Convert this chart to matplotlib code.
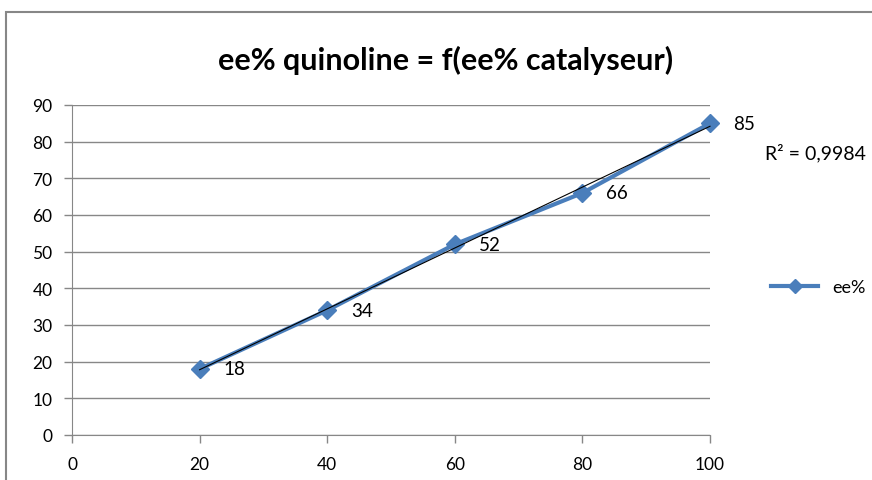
import matplotlib.pyplot as plt
import numpy as np
from matplotlib.patches import Rectangle

ee_catalyseur = [20, 40, 60, 80, 100]
ee_quinoline = [18, 34, 52, 66, 85]
x_ticks = [0, 20, 40, 60, 80, 100]
y_ticks = [0, 10, 20, 30, 40, 50, 60, 70, 80, 90]

blue = "#4A7EBB"
grey = "#878787"
font = ["Lato", "DejaVu Sans"]

fig = plt.figure(figsize=(8.72, 4.81), dpi=100)
W, H = 872, 481

# cadre du graphique
fig.patches.append(Rectangle((6 / W, -0.05), 1.0, 1 - 13 / H + 0.05,
                             transform=fig.transFigure, fill=False,
                             edgecolor=grey, linewidth=1.5))

ax = fig.add_axes([72 / W, 45 / H, (710 - 72) / W, (436 - 106) / H])
ax.set_xlim(0, 100)
ax.set_ylim(0, 90)
ax.set_xticks(x_ticks)
ax.set_yticks(y_ticks)
ax.grid(axis="y", color=grey, linewidth=1)
ax.set_axisbelow(True)
for side in ["top", "right"]:
    ax.spines[side].set_visible(False)
for side in ["left", "bottom"]:
    ax.spines[side].set_color(grey)
ax.tick_params(colors=grey, length=6, width=1, labelcolor="black", labelsize=12.5)
ax.tick_params(axis="x", pad=9)
ax.tick_params(axis="y", pad=8)
for lbl in ax.get_xticklabels() + ax.get_yticklabels():
    lbl.set_family(font)

ax.plot(ee_catalyseur, ee_quinoline, color=blue, linewidth=3, marker="D",
        markersize=9, label="ee%", zorder=3, clip_on=False)

# courbe de tendance linéaire
a, b = np.polyfit(ee_catalyseur, ee_quinoline, 1)
fit = np.polyval([a, b], ee_catalyseur)
r2 = 1 - np.sum((np.array(ee_quinoline) - fit) ** 2) / np.sum((np.array(ee_quinoline) - np.mean(ee_quinoline)) ** 2)
xs = np.array([ee_catalyseur[0], ee_catalyseur[-1]])
ax.plot(xs, a * xs + b, color="black", linewidth=0.8, zorder=4, clip_on=False)

for x, y in zip(ee_catalyseur, ee_quinoline):
    ax.annotate(f"{y}", (x, y), xytext=(17, 0), textcoords="offset points",
                fontsize=13.5, family=font, va="center", ha="left")

fig.text(765 / W, 1 - 153 / H, f"R² = {r2:.4f}".replace(".", ","),
         fontsize=14, family=font, va="center", ha="left")

fig.text(446 / W, 1 - 60 / H, "ee% quinoline = f(ee% catalyseur)",
         fontsize=22, fontweight="bold", family=font, ha="center", va="center")

leg = fig.legend(loc="center left", bbox_to_anchor=(755 / W, 1 - 288 / H),
                 frameon=False, prop={"family": font, "size": 13},
                 handlelength=2.6, markerscale=0.8)

fig.savefig("out.png", dpi=100)
